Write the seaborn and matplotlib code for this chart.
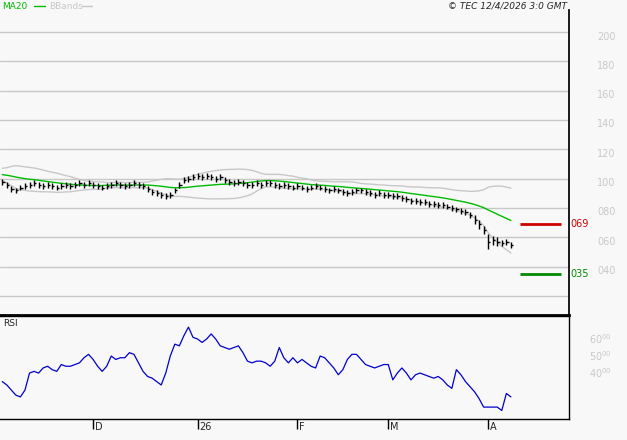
import numpy as np
import pandas as pd
import matplotlib
matplotlib.use("Agg")
import matplotlib.pyplot as plt
import seaborn as sns

sns.set_theme(style="white")
plt.rcParams['font.family'] = ['DejaVu Sans']

# daily closes, 3 Nov 2025 - 8 Apr 2026 (weekdays)
closes = [0.98, 0.96, 0.93, 0.92, 0.94, 0.95, 0.96, 0.97, 0.96, 0.95, 0.96, 0.95, 0.94, 0.95, 0.96, 0.95, 0.96, 0.97, 0.96, 0.97,
          0.96, 0.95, 0.94, 0.95, 0.96, 0.97, 0.96, 0.95, 0.96, 0.97, 0.96, 0.95, 0.93, 0.91, 0.90, 0.89, 0.88, 0.89, 0.92, 0.96, 0.99, 1.00, 1.01,
          1.02, 1.01, 1.02, 1.01, 1.00, 1.01, 0.99, 0.98, 0.97, 0.98, 0.97, 0.96, 0.96, 0.97, 0.96, 0.97, 0.97, 0.96, 0.95, 0.96, 0.95, 0.94,
          0.95, 0.94, 0.93, 0.94, 0.95, 0.94, 0.93, 0.92, 0.93, 0.92, 0.91, 0.90, 0.91, 0.92, 0.92, 0.91, 0.90, 0.89, 0.90, 0.89,
          0.89, 0.88, 0.88, 0.87, 0.86, 0.85, 0.85, 0.84, 0.84, 0.83, 0.83, 0.82, 0.82, 0.81, 0.80, 0.79, 0.78, 0.77, 0.75, 0.72, 0.69, 0.65,
          0.57, 0.58, 0.57, 0.56, 0.57, 0.55]
spread = [0.02] * 104 + [0.03, 0.03, 0.03, 0.05, 0.03, 0.03, 0.02, 0.02, 0.02]
# closes before the window, used only for the MA20 / bands
history = [1.05, 1.04, 1.05, 1.06, 1.05, 1.04, 1.03, 1.04, 1.05, 1.04, 1.03, 1.02, 1.03, 1.02, 1.01, 1.02, 1.01, 1.00, 0.99]

rsi = [35, 33, 30, 27, 26, 30, 40, 41, 40, 43, 44, 42, 41, 45, 44, 44, 45, 46, 49, 51,
       48, 44, 41, 44, 50, 48, 49, 49, 52, 51, 46, 41, 38, 37, 35, 33, 40, 50, 57, 56, 62, 67, 61,
       60, 58, 60, 63, 60, 56, 55, 54, 55, 56, 52, 47, 46, 47, 47, 46, 44, 47, 55, 49, 46, 49,
       46, 48, 46, 44, 43, 50, 49, 46, 43, 39, 42, 48, 51, 51, 48, 45, 44, 43, 44, 45,
       45, 36, 40, 43, 40, 36, 39, 40, 39, 38, 37, 38, 36, 33, 31, 42, 39, 35, 32, 29, 25, 20,
       20, 20, 20, 18, 28, 26]

tick_pos = [20, 43, 65, 85, 107]
tick_labels = ["D", "26", "F", "M", "A"]
price_levels = [0.4, 0.6, 0.8, 1.0, 1.2, 1.4, 1.6, 1.8, 2.0]
rsi_levels = [40, 50, 60]
resistance = 0.69
support = 0.35

full = pd.Series(history + closes)
ma = full.rolling(20).mean().iloc[len(history):].values
sd = full.rolling(20).std().iloc[len(history):].values
df = pd.DataFrame({"x": np.arange(len(closes)), "close": closes, "ma": ma,
                   "up": ma + 2 * sd, "lo": ma - 2 * sd, "rsi": rsi})
hi = df["close"] + np.array(spread)
lo = df["close"] - np.array(spread)

bg = "#f8f8f8"
grey = "#c8c8c8"
fig = plt.figure(figsize=(6.27, 4.40), dpi=100, facecolor=bg)
ax = fig.add_axes([0, 0.284, 0.9075, 0.693], facecolor=bg)
ax2 = fig.add_axes([0, 0.0477, 0.9075, 0.234], facecolor=bg)

xmax = 124.8
for a in (ax, ax2):
    a.set_xlim(-0.5, xmax)

# main panel
for v in [0.2] + price_levels:
    ax.axhline(v, color=grey, lw=1, zorder=0)
sns.lineplot(data=df, x="x", y="up", ax=ax, color=grey, lw=1)
sns.lineplot(data=df, x="x", y="lo", ax=ax, color=grey, lw=1)
sns.lineplot(data=df, x="x", y="ma", ax=ax, color="#00bb00", lw=1)
ax.vlines(df["x"], lo, hi, color="black", lw=1)
ax.hlines(df["close"], df["x"], df["x"] + 0.5, color="black", lw=1)
ax.hlines(resistance, 114, 123, color="#cc0000", lw=2)
ax.hlines(support, 114, 123, color="#008800", lw=2)
ax.text(xmax + 0.3, resistance, "069", color="#cc0000", fontsize=7, va="center")
ax.text(xmax + 0.3, support, "035", color="#008800", fontsize=7, va="center")
ax.set_ylim(0.07, 2.15)
ax.set_xticks([])
ax.set_yticks([])
ax.set_xlabel("")
ax.set_ylabel("")
for v in price_levels:
    ax.text(1.05, v - 0.03, f"{v:.2f}".replace(".", ""), transform=ax.get_yaxis_transform(),
            color=grey, fontsize=7, va="center")
for s in ["top", "left"]:
    ax.spines[s].set_visible(False)
ax.spines["right"].set_color("black")
ax.spines["bottom"].set_color("black")
ax.spines["bottom"].set_linewidth(2)

ty = 0.986
fig.text(0.003, ty, "MA20", color="#00bb00", fontsize=6.5, va="center")
fig.add_artist(plt.Line2D([0.055, 0.071], [ty, ty], color="#00bb00", lw=1))
fig.text(0.078, ty, "BBands", color=grey, fontsize=6.5, va="center")
fig.add_artist(plt.Line2D([0.13, 0.146], [ty, ty], color=grey, lw=1))
fig.text(0.905, ty, "© TEC 12/4/2026 3:0 GMT", fontsize=6.5, style="italic", ha="right", va="center")

# RSI panel
sns.lineplot(data=df, x="x", y="rsi", ax=ax2, color="#0000cc", lw=0.9)
ax2.set_ylim(13, 73.5)
ax2.set_yticks([])
ax2.set_xticks(tick_pos)
ax2.set_xticklabels([])
ax2.tick_params(axis="x", direction="out", length=7, width=1, color="black", bottom=True)
for p, t in zip(tick_pos, tick_labels):
    ax2.text(p + 0.4, -0.03, t, transform=ax2.get_xaxis_transform(), fontsize=7, va="top")
ax2.set_xlabel("")
ax2.set_ylabel("")
ax2.text(0.005, 0.9, "RSI", fontsize=6.5, transform=ax2.transAxes)
for v in rsi_levels:
    ax2.text(1.035, v, f"{v}$^{{00}}$", transform=ax2.get_yaxis_transform(),
             color=grey, fontsize=7, va="center")
for s in ax2.spines.values():
    s.set_color("black")
    s.set_linewidth(1)
ax2.spines["left"].set_visible(False)

fig.savefig("out.png", dpi=100, facecolor=bg)
